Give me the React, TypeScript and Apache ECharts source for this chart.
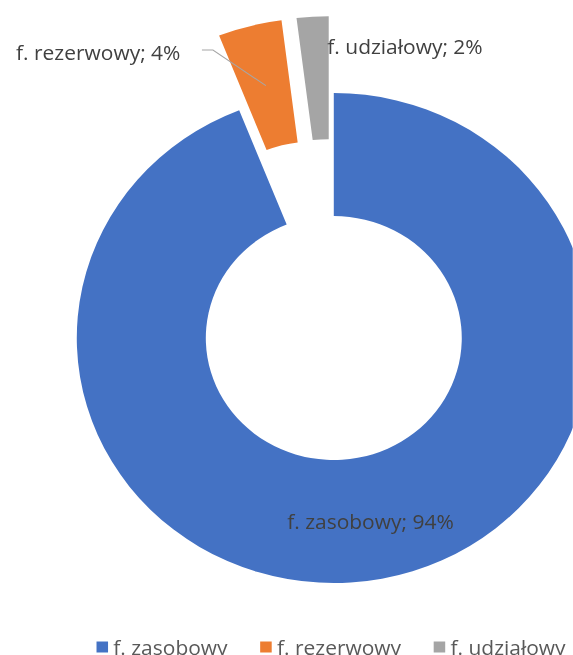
import React, { useEffect, useRef } from "react";
import * as echarts from "echarts";

const categories = ["f. zasobowy", "f. rezerwowy", "f. udziałowy"];
const values = [94, 4, 2];
const colors = ["#4472C4", "#ED7D31", "#A5A5A5"];
const exploded = [false, true, true];

const STRETCH = 1.049;
const W = 573 / STRETCH;
const H = 655;
const CX = 318.2;
const CY = 338;
const R_IN = 122;
const R_OUT = 245;
const EXPLODE = 77;

export default function App() {
  const ref = useRef<HTMLDivElement>(null);
  useEffect(() => {
    if (!ref.current) return;
    const chart = echarts.init(ref.current, undefined, { renderer: "svg" });
    const font = "'Open Sans', 'Noto Sans', sans-serif";
    const total = values.reduce((a, b) => a + b, 0);
    let cum = 0;
    const mids = values.map((v) => {
      const m = (cum + v / 2) / total;
      cum += v;
      return m * Math.PI * 2;
    });
    const centers = values.map((_, k) => {
      const off = exploded[k] ? EXPLODE : 0;
      return [CX + Math.sin(mids[k]) * off, CY - Math.cos(mids[k]) * off];
    });

    const labelLayout = (params: any) => {
      if (params.dataIndex === 1) {
        const c = centers[1];
        const rm = (R_IN + R_OUT) / 2;
        const end = [c[0] + Math.sin(mids[1]) * rm, c[1] - Math.cos(mids[1]) * rm];
        return {
          x: 172,
          y: 52,
          align: "right",
          verticalAlign: "middle",
          labelLinePoints: [[192.5, 50], [203, 50], end],
        };
      }
      if (params.dataIndex === 2) {
        return { x: 312, y: 46, align: "left", verticalAlign: "middle" };
      }
      return {};
    };

    const baseSeries = (k: number, visibleSlice: number, labelIdx: number, z: number) => ({
      type: "pie",
      z,
      center: centers[k],
      radius: [R_IN, R_OUT],
      startAngle: 90,
      clockwise: true,
      avoidLabelOverlap: false,
      silent: true,
      emphasis: { disabled: true },
      itemStyle: { borderWidth: 0 },
      label: {
        formatter: "{b}; {d}%",
        fontSize: 20,
        fontFamily: font,
        color: "#404040",
      },
      labelLine: { lineStyle: { color: "#A6A6A6", width: 1 } },
      labelLayout,
      data: categories.map((name, i) => ({
        name,
        value: values[i],
        itemStyle: { color: i === visibleSlice ? colors[i] : "transparent" },
        label: {
          show: i === labelIdx,
          position: i === 0 ? "inside" : "outside",
        },
        labelLine: { show: i === labelIdx && i === 1 },
      })),
    });

    const series = [
      baseSeries(0, 0, 0, 2),
      baseSeries(1, 1, -1, 2),
      baseSeries(2, 2, 2, 2),
      baseSeries(1, -1, 1, 5),
    ];

    chart.setOption({
      animation: false,
      legend: {
        data: categories.map((name, i) => ({ name, itemStyle: { color: colors[i] } })),
        left: 87,
        top: 631,
        width: 520,
        icon: "rect",
        itemWidth: 11,
        itemHeight: 11,
        itemGap: 31,
        selectedMode: false,
        textStyle: { fontSize: 20, color: "#595959", fontFamily: font, lineHeight: 22 },
      },
      series,
    });
    return () => chart.dispose();
  }, []);
  return (
    <div
      ref={ref}
      style={{
        position: "fixed",
        left: 0,
        top: 0,
        width: W,
        height: H,
        transform: `scaleX(${STRETCH})`,
        transformOrigin: "0 0",
      }}
    />
  );
}
